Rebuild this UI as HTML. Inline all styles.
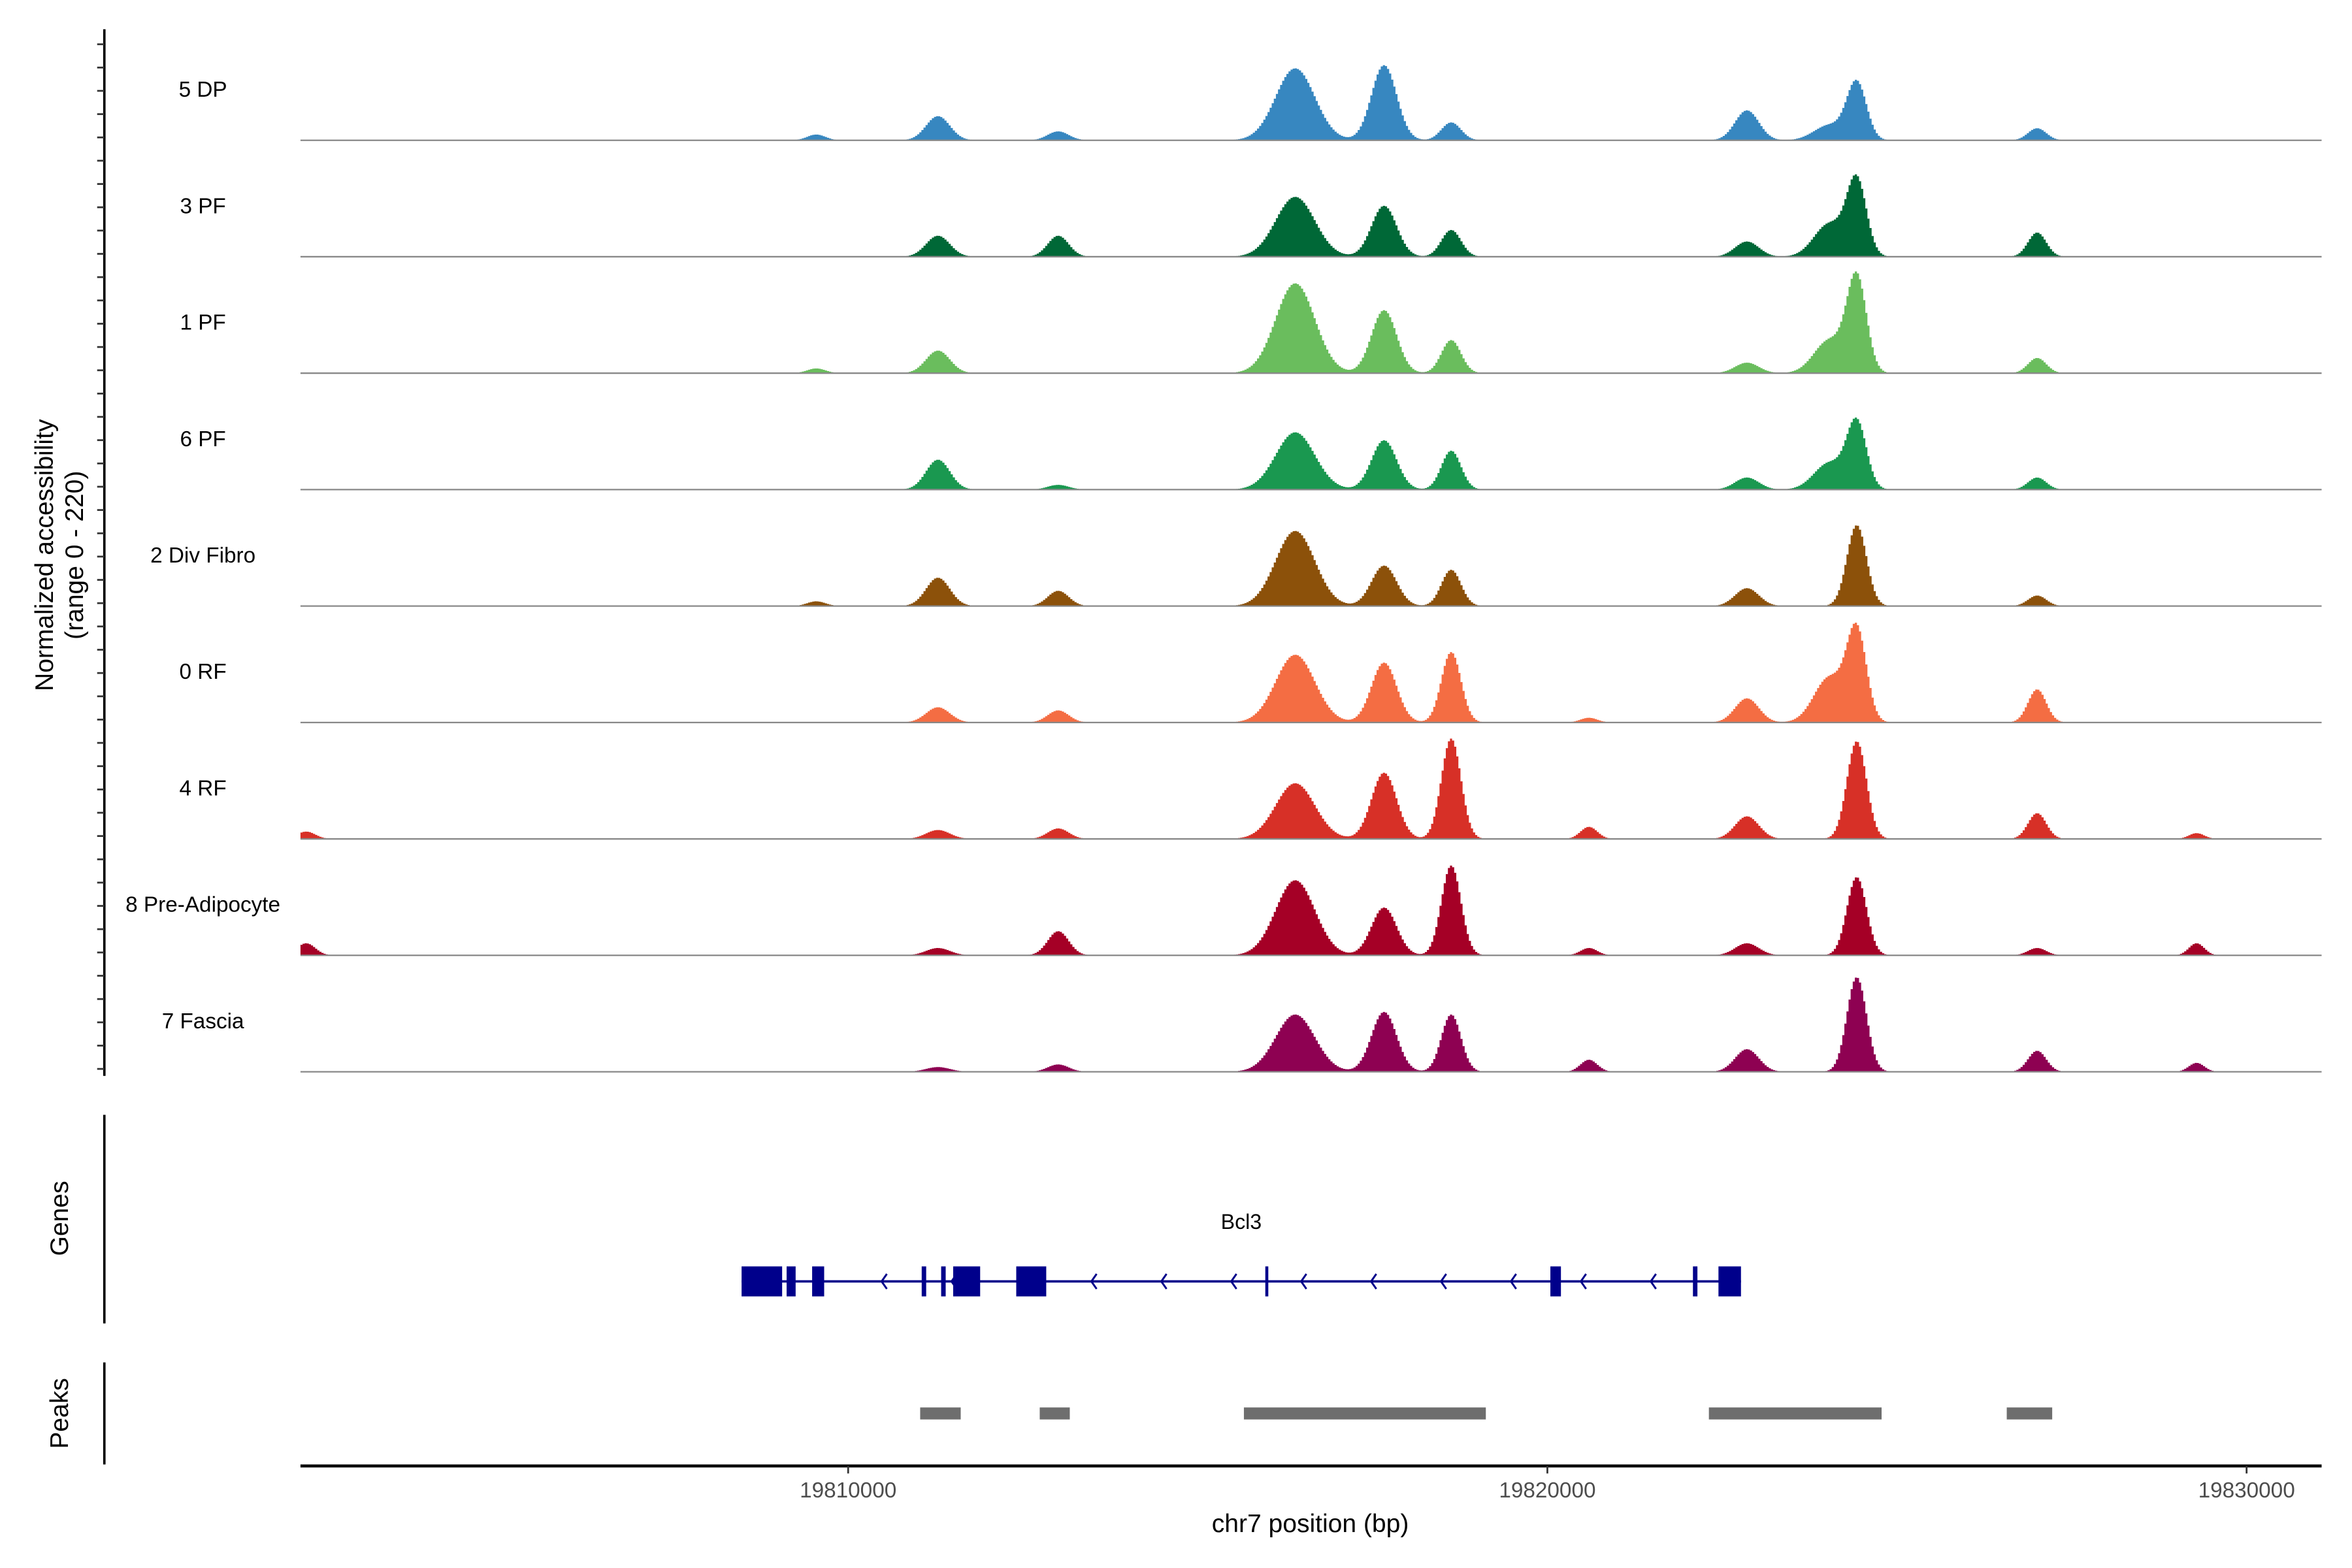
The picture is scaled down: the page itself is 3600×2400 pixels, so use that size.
<!DOCTYPE html>
<html><head><meta charset="utf-8">
<style>html,body{margin:0;padding:0;background:#fff}svg{display:block}text{font-family:"Liberation Sans",Arial,sans-serif}</style>
</head><body>
<svg id="chart" xmlns="http://www.w3.org/2000/svg" width="3600" height="2400" viewBox="0 0 1567 1045">
<rect width="1567" height="1045" fill="#fff"/>
<g id="tracks"></g>
<g id="yaxis"></g>
<text transform="translate(35,370) rotate(-90)" text-anchor="middle" font-size="17">Normalized accessibility</text>
<text transform="translate(55,370) rotate(-90)" text-anchor="middle" font-size="17">(range 0 - 220)</text>
<line x1="69.3" y1="743" x2="69.3" y2="882" stroke="#000" stroke-width="1.6"/>
<text transform="translate(45,812) rotate(-90)" text-anchor="middle" font-size="17">Genes</text>
<line x1="69.3" y1="908" x2="69.3" y2="976" stroke="#000" stroke-width="1.6"/>
<text transform="translate(45,942) rotate(-90)" text-anchor="middle" font-size="17">Peaks</text>
<g id="gene"></g>
<text x="827" y="819" text-anchor="middle" font-size="14">Bcl3</text>
<g id="peaks"></g>
<line x1="200" y1="977" x2="1547" y2="977" stroke="#000" stroke-width="2"/>
<g id="xaxis"></g>
<text x="873" y="1021" text-anchor="middle" font-size="17">chr7 position (bp)</text>
</svg>
<script>
const NS="http://www.w3.org/2000/svg";
const trackNames=["5 DP","3 PF","1 PF","6 PF","2 Div Fibro","0 RF","4 RF","8 Pre-Adipocyte","7 Fascia"];
const trackColors=["#3787c0","#006837","#6abd5d","#1a9850","#8c510a","#f46d43","#d73027","#a50026","#8e0152"];
const peakCenters=[19802235,19809530,19811270,19812990,19816380,19817650,19818610,19820580,19822840,19824020,19824410,19826990,19829270];
const peakWidths=[130,130,170,150,280,180,140,120,170,220,140,130,110];
const trackHeights=[
 [0,11,46,17,137,143,34,0,57,29,109,23,0],
 [0,0,40,40,114,97,51,0,29,63,143,46,0],
 [0,9,43,0,171,120,63,0,20,63,180,29,0],
 [0,0,57,9,109,94,74,0,23,51,126,23,0],
 [0,9,54,29,143,77,69,0,34,0,154,20,0],
 [0,0,29,23,129,114,134,9,46,86,171,63,0],
 [14,0,17,20,106,126,191,23,43,0,186,49,11],
 [23,0,14,46,143,91,171,14,23,0,149,14,23],
 [0,0,9,14,109,114,109,23,43,0,180,40,17]
];
const xTicks=[19810000,19820000,19830000];
const geneExonStarts=[19808476,19809120,19809485,19811052,19811330,19811502,19812404,19815966,19820043,19822082,19822447];
const geneExonEnds=[19809056,19809249,19809657,19811116,19811395,19811888,19812833,19816009,19820194,19822146,19822769];
const geneStart=19808476, geneEnd=19822769;
const peakStarts=[19811030,19812740,19815660,19822310,19826570];
const peakEnds=[19811610,19813170,19819120,19824780,19827220];
const rangeMax=220;

const X0=200,X1=1547,BP0=19810000-365/46.6*1000,BP1=19830000+50/46.6*1000;
function xs(bp){return X0+(bp-BP0)/(BP1-BP0)*(X1-X0);}
const trackH=77;
function ys(v,base){return base-v/rangeMax*trackH;}
function el(tag,attrs,parent){const e=document.createElementNS(NS,tag);for(const k in attrs)e.setAttribute(k,attrs[k]);parent.appendChild(e);return e;}

const tg=document.getElementById('tracks');
trackNames.forEach((name,i)=>{
  const base=93.5+i*77.6;
  const g=el('g',{},tg);
  
  
  let d='M'+X0+','+base;
  const step=30;
  for(let bp=BP0;bp<=BP1;bp+=step){
    let v=0;
    peakCenters.forEach((c,k)=>{const h=trackHeights[i][k];if(h>0){const z=(bp-c)/peakWidths[k];v+=h*Math.exp(-0.5*z*z);}});
    const y=ys(v,base).toFixed(2);
    d+='L'+xs(bp).toFixed(2)+','+y+'L'+xs(bp+step).toFixed(2)+','+y;
  }
  d+='L'+X1+','+base+'Z';
  const p=el('path',{d:d,fill:trackColors[i]},g);
  
  
  const bl=el('line',{x1:X0,y1:base,x2:X1,y2:base,stroke:'#888',"stroke-width":1},g);
  
  
  const t=el('text',{x:135,y:base-29,"text-anchor":"middle","font-size":14.5},g);
  
  
  t.textContent=name;
});

const ya=document.getElementById('yaxis');
const yl=el('line',{x1:69.3,y1:19.5,x2:69.3,y2:717,stroke:'#000',"stroke-width":1.6},ya);


for(let y=29.5;y<=716;y+=15.52){
  const t=el('line',{x1:64.5,y1:y,x2:69.3,y2:y,stroke:'#333',"stroke-width":1.2},ya);
  
  
}

const gg=document.getElementById('gene');
const gy=854;
const gl=el('line',{x1:xs(geneStart),y1:gy,x2:xs(geneEnd),y2:gy,stroke:'#00008b',"stroke-width":1.6},gg);


for(let bp=19810500;bp<geneEnd-300;bp+=1000){
  const x=xs(bp);
  const a=el('path',{d:`M${x+2.5},${gy-5}L${x-1},${gy}L${x+2.5},${gy+5}`,fill:'none',stroke:'#00008b',"stroke-width":1.3},gg);
  
  
}
geneExonStarts.forEach((s,k)=>{
  const r=el('rect',{x:xs(s),y:gy-10,width:Math.max(1.2,xs(geneExonEnds[k])-xs(s)),height:20,fill:'#00008b'},gg);
  
  
});

const pg=document.getElementById('peaks');
peakStarts.forEach((s,k)=>{
  const r=el('rect',{x:xs(s),y:938,width:xs(peakEnds[k])-xs(s),height:8,fill:'#6e6e6e'},pg);
  
  
});

const xa=document.getElementById('xaxis');
xTicks.forEach(v=>{
  const x=xs(v);
  const t=el('line',{x1:x,y1:977,x2:x,y2:982,stroke:'#333',"stroke-width":1.2},xa);
  
  
  const l=el('text',{x:x,y:998,"text-anchor":"middle","font-size":14.5,fill:'#4d4d4d'},xa);
  
  
  l.textContent=String(v);
});
</script>
</body></html>
